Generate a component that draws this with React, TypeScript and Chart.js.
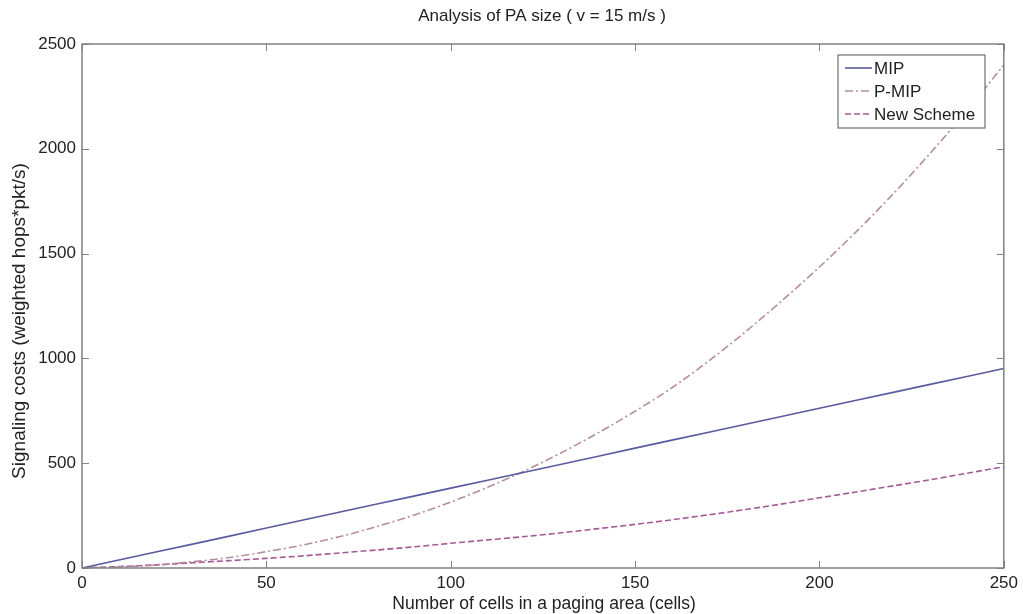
import React, { useEffect, useRef } from 'react';
import { Chart, registerables } from 'chart.js';

Chart.register(...registerables);

const cells = [0, 10, 20, 30, 40, 50, 60, 70, 80, 90, 100, 110, 120, 130, 140, 150, 160, 170, 180, 190, 200, 210, 220, 230, 240, 250];
const mip = [0, 38, 76, 114, 152, 191, 229, 267, 305, 343, 381, 419, 457, 495, 533, 572, 610, 648, 686, 724, 762, 800, 838, 876, 914, 952];
const pmip = [0, 5, 14, 30, 50, 78, 110, 150, 198, 252, 315, 385, 463, 550, 645, 748, 860, 988, 1128, 1278, 1436, 1605, 1785, 1978, 2182, 2400];
const newScheme = [0, 7, 15, 25, 35, 46, 58, 72, 86, 101, 118, 134, 150, 168, 188, 208, 230, 254, 279, 306, 335, 363, 392, 421, 452, 483];

const seriesLabels = ['MIP', 'P-MIP', 'New Scheme'];
const xTicks = [0, 50, 100, 150, 200, 250];
const yTicks = [0, 500, 1000, 1500, 2000, 2500];
const chartTitle = 'Analysis of PA size ( v = 15 m/s )';
const xTitle = 'Number of cells in a paging area (cells)';
const yTitle = 'Signaling costs (weighted hops*pkt/s)';

const FONT = '"Liberation Sans", Arial, Helvetica, sans-serif';
const TEXT = '#222222';

const decor = {
  id: 'decor',
  afterDatasetsDraw(chart: any) {
    const { ctx, chartArea: a, scales } = chart;
    ctx.save();
    // frame
    ctx.strokeStyle = '#808080';
    ctx.lineWidth = 1.5;
    ctx.setLineDash([]);
    ctx.strokeRect(a.left, a.top, a.right - a.left, a.bottom - a.top);
    // inward ticks
    ctx.lineWidth = 1;
    const seg = (x1: number, y1: number, x2: number, y2: number) => {
      ctx.beginPath();
      ctx.moveTo(x1, y1);
      ctx.lineTo(x2, y2);
      ctx.stroke();
    };
    xTicks.forEach((v) => {
      const px = Math.round(scales.x.getPixelForValue(v)) + 0.5;
      seg(px, a.bottom, px, a.bottom - 7);
      seg(px, a.top, px, a.top + 7);
    });
    yTicks.forEach((v) => {
      const py = Math.round(scales.y.getPixelForValue(v)) + 0.5;
      seg(a.left, py, a.left + 7, py);
      seg(a.right, py, a.right - 7, py);
    });

    // legend box
    const bx = 838, by = 55, bw = 147, bh = 73;
    ctx.fillStyle = '#ffffff';
    ctx.fillRect(bx, by, bw, bh);
    ctx.strokeStyle = '#707070';
    ctx.lineWidth = 1.2;
    ctx.strokeRect(bx, by, bw, bh);
    ctx.font = `17px ${FONT}`;
    ctx.textAlign = 'left';
    ctx.textBaseline = 'middle';
    chart.data.datasets.forEach((ds: any, i: number) => {
      const y = 68 + i * 23;
      ctx.strokeStyle = ds.borderColor;
      ctx.lineWidth = ds.borderWidth;
      ctx.setLineDash(ds.borderDash || []);
      seg(845, y, 872, y);
      ctx.setLineDash([]);
      ctx.fillStyle = TEXT;
      ctx.fillText(ds.label, 874, y + 1);
    });

    // titles
    ctx.fillStyle = TEXT;
    ctx.textAlign = 'center';
    ctx.textBaseline = 'middle';
    ctx.font = `17px ${FONT}`;
    ctx.fillText(chartTitle, 542, 16);
    ctx.font = `17.5px ${FONT}`;
    ctx.fillText(xTitle, 544, 604);
    ctx.translate(20, 321);
    ctx.rotate(-Math.PI / 2);
    ctx.font = `19px ${FONT}`;
    ctx.fillText(yTitle, 0, 0);
    ctx.restore();
  },
};

export default function App() {
  const ref = useRef<HTMLCanvasElement | null>(null);

  useEffect(() => {
    document.body.style.margin = '0';
    const canvas = ref.current;
    if (!canvas) return;
    const chart = new Chart(canvas, {
      type: 'line',
      data: {
        datasets: [
          {
            label: seriesLabels[0],
            data: cells.map((x, i) => ({ x, y: mip[i] })),
            borderColor: '#5a5aa0',
            borderWidth: 1.6,
            pointRadius: 0,
            tension: 0,
          },
          {
            label: seriesLabels[1],
            data: cells.map((x, i) => ({ x, y: pmip[i] })),
            borderColor: '#b58e9c',
            borderWidth: 1.6,
            borderDash: [8, 3, 2, 3],
            pointRadius: 0,
            tension: 0.3,
          },
          {
            label: seriesLabels[2],
            data: cells.map((x, i) => ({ x, y: newScheme[i] })),
            borderColor: '#a45a98',
            borderWidth: 1.6,
            borderDash: [6, 3],
            pointRadius: 0,
            tension: 0.3,
          },
        ],
      },
      options: {
        responsive: false,
        animation: false,
        layout: { padding: { top: 44, right: 19, left: 0, bottom: 0 } },
        plugins: {
          legend: { display: false },
          title: { display: false },
          tooltip: { enabled: false },
        },
        scales: {
          x: {
            type: 'linear',
            min: 0,
            max: 250,
            afterBuildTicks: (s: any) => {
              s.ticks = xTicks.map((v) => ({ value: v }));
            },
            afterFit: (s: any) => {
              s.height = 46;
            },
            grid: { display: false, drawTicks: false },
            border: { display: false },
            ticks: {
              padding: 5,
              color: TEXT,
              font: { family: FONT, size: 17 },
              maxRotation: 0,
              callback: (v: any) => String(v),
            },
          },
          y: {
            type: 'linear',
            min: 0,
            max: 2500,
            afterBuildTicks: (s: any) => {
              s.ticks = yTicks.map((v) => ({ value: v }));
            },
            afterFit: (s: any) => {
              s.width = 82;
            },
            grid: { display: false, drawTicks: false },
            border: { display: false },
            ticks: {
              padding: 6,
              color: TEXT,
              font: { family: FONT, size: 17 },
              callback: (v: any) => String(v),
            },
          },
        },
      },
      plugins: [decor],
    } as any);
    return () => chart.destroy();
  }, []);

  return (
    <div style={{ position: 'absolute', left: 0, top: 0, width: 1023, height: 614 }}>
      <canvas ref={ref} width={1023} height={614} />
    </div>
  );
}
